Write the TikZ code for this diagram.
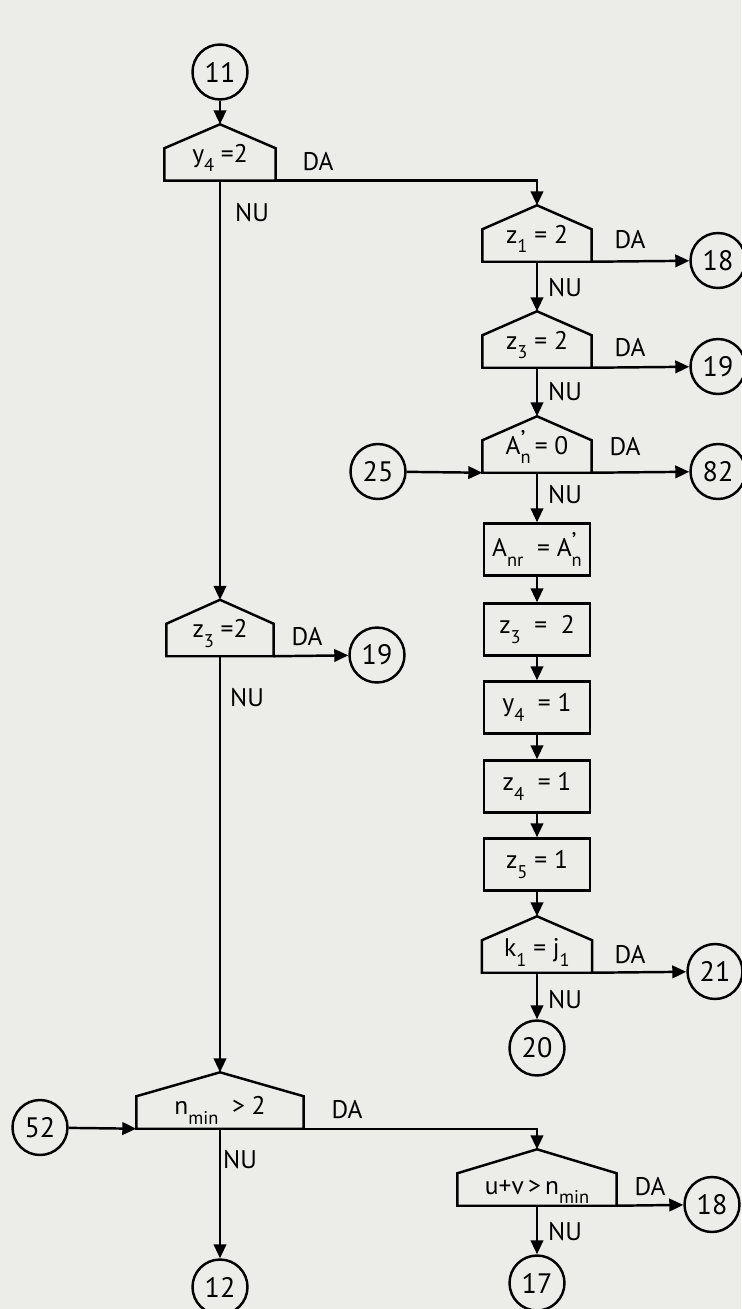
\documentclass[tikz,border=0pt]{standalone}
\usepackage{fontspec}
\setmainfont{PT Sans}
\usetikzlibrary{arrows.meta}
\definecolor{carta}{RGB}{236,236,232}
\newcommand\jos[1]{\raisebox{-0.75ex}{\fontsize{10.5}{11}\selectfont #1}}
\newcommand\primo[1]{\rlap{\raisebox{0.45ex}{’}}\jos{#1}}
\newcommand\cond[2][5.5pt]{\raisebox{-#1}[0pt][0pt]{#2}}

\begin{document}
\begin{tikzpicture}[x=0.02cm, y=-0.02cm, line width=1.4pt, >={Triangle[length=2.8mm,width=2.5mm]}]
	% Stili per blocchi e connettori
	\tikzset{
		cerc/.style={circle, draw, minimum size=1.1cm, inner sep=0pt, font=\fontsize{16}{18}\selectfont},
		bloc/.style={rectangle, draw, minimum width=2.12cm, minimum height=1.04cm, inner sep=0pt, font=\fontsize{14.5}{16}\selectfont},
		decizie/.style={minimum height=1.08cm, inner sep=0pt, font=\fontsize{14.5}{16}\selectfont},
		eticheta/.style={inner sep=0pt, font=\fontsize{14.5}{16}\selectfont}
	}
	\fill[carta] (0,0) rectangle (741,1309);
	\useasboundingbox (0,0) rectangle (741,1309);
	
	% Colonna sinistra
	\node[cerc] (C_11) at (220, 72) {11};
	\node[decizie, minimum width=2.18cm] (D_y4) at (220, 152.5) {\cond{y\jos{4} =2}};
	\node[decizie, minimum width=2.10cm] (D_z3b) at (220, 628) {\cond{z\jos{3} =2}};
	\node[cerc] (C_19b) at (377, 655) {19};
	\node[decizie, minimum width=3.30cm] (D_n) at (220, 1100.5) {\cond[8pt]{n\jos{min} \ > 2}};
	\node[cerc] (C_52) at (40, 1127.5) {52};
	\node[cerc] (C_12) at (220, 1287) {12};
	
	% Colonna destra
	\node[decizie, minimum width=2.14cm] (D_z1) at (537, 233.5) {\cond{z\jos{1} = 2}};
	\node[cerc] (C_18a) at (718, 260.5) {18};
	\node[decizie, minimum width=2.14cm] (D_z3) at (537, 339.5) {\cond{z\jos{3} = 2}};
	\node[cerc] (C_19a) at (718, 366.5) {19};
	\node[decizie, minimum width=2.14cm] (D_A) at (537, 444.5) {\cond{A\primo{n}\,= 0}};
	\node[cerc] (C_25) at (378, 471.5) {25};
	\node[cerc] (C_82) at (718, 471.5) {82};
	\node[bloc] (B_anr) at (537, 549.5) {A\jos{nr} \ = A\primo{n}};
	\node[bloc] (B_z3) at (537, 629.5) {z\jos{3} \ = \ 2};
	\node[bloc] (B_y4) at (537, 707.5) {y\jos{4} \ = 1};
	\node[bloc] (B_z4) at (537, 786.5) {z\jos{4} \ = 1};
	\node[bloc] (B_z5) at (537, 864.5) {z\jos{5} = 1};
	\node[decizie, minimum width=2.16cm] (D_k) at (537, 944.5) {\cond[7pt]{k\jos{1} = j\jos{1}}};
	\node[cerc] (C_21) at (715, 971.5) {21};
	\node[cerc] (C_20) at (537, 1048) {20};
	\node[decizie, minimum width=3.14cm] (D_uv) at (537, 1177.5) {\cond[9.5pt]{u+v\,>\,n\jos{min}}};
	\node[cerc] (C_18b) at (712, 1204.5) {18};
	\node[cerc] (C_17) at (537, 1283) {17};
	
	% Contorno dei blocchi di decisione
	\foreach \d in {D_y4, D_z3b, D_n, D_z1, D_z3, D_A, D_k, D_uv}
		\draw (\d.south west) -- ([yshift=-0.48cm]\d.north west) -- (\d.north)
			-- ([yshift=-0.48cm]\d.north east) -- (\d.south east) -- cycle;
	
	% Etichette DA / NU
	\node[eticheta] (L_y4da) at (318, 162) {DA};
	\node[eticheta] (L_y4nu) at (252, 213) {NU};
	\node[eticheta] (L_z3bda) at (307, 637) {DA};
	\node[eticheta] (L_z3bnu) at (247, 698) {NU};
	\node[eticheta] (L_nda) at (347, 1110) {DA};
	\node[eticheta] (L_nnu) at (240, 1160) {NU};
	\node[eticheta] (L_z1da) at (630, 240) {DA};
	\node[eticheta] (L_z1nu) at (565, 288) {NU};
	\node[eticheta] (L_z3da) at (630, 348) {DA};
	\node[eticheta] (L_z3nu) at (565, 392) {NU};
	\node[eticheta] (L_Ada) at (625, 447) {DA};
	\node[eticheta] (L_Anu) at (565, 495) {NU};
	\node[eticheta] (L_kda) at (630, 955) {DA};
	\node[eticheta] (L_knu) at (565, 1000) {NU};
	\node[eticheta] (L_uvda) at (650, 1187) {DA};
	\node[eticheta] (L_uvnu) at (565, 1232) {NU};
	
	% Connettori colonna sinistra
	\draw[->] (C_11) -- (D_y4.north);
	\draw[->] (D_y4.south east) -| (D_z1.north);
	\draw[->] (D_y4.south) -- (D_z3b.north);
	\draw[->] (D_z3b.south east) -- (C_19b);
	\draw[->] (D_z3b.south) -- (D_n.north);
	\draw[->] (C_52) -- (D_n.south west);
	\draw[->] (D_n.south east) -| (D_uv.north);
	\draw[->] (D_n.south) -- (C_12);
	
	% Connettori colonna destra
	\draw[->] (D_z1.south east) -- (C_18a);
	\draw[->] (D_z1.south) -- (D_z3.north);
	\draw[->] (D_z3.south east) -- (C_19a);
	\draw[->] (D_z3.south) -- (D_A.north);
	\draw[->] (C_25) -- (D_A.south west);
	\draw[->] (D_A.south east) -- (C_82);
	\draw[->] (D_A.south) -- (B_anr);
	\draw[->] (B_anr) -- (B_z3);
	\draw[->] (B_z3) -- (B_y4);
	\draw[->] (B_y4) -- (B_z4);
	\draw[->] (B_z4) -- (B_z5);
	\draw[->] (B_z5) -- (D_k.north);
	\draw[->] (D_k.south east) -- (C_21);
	\draw[->] (D_k.south) -- (C_20);
	\draw[->] (D_uv.south east) -- (C_18b);
	\draw[->] (D_uv.south) -- (C_17);
	
\end{tikzpicture}
\end{document}
